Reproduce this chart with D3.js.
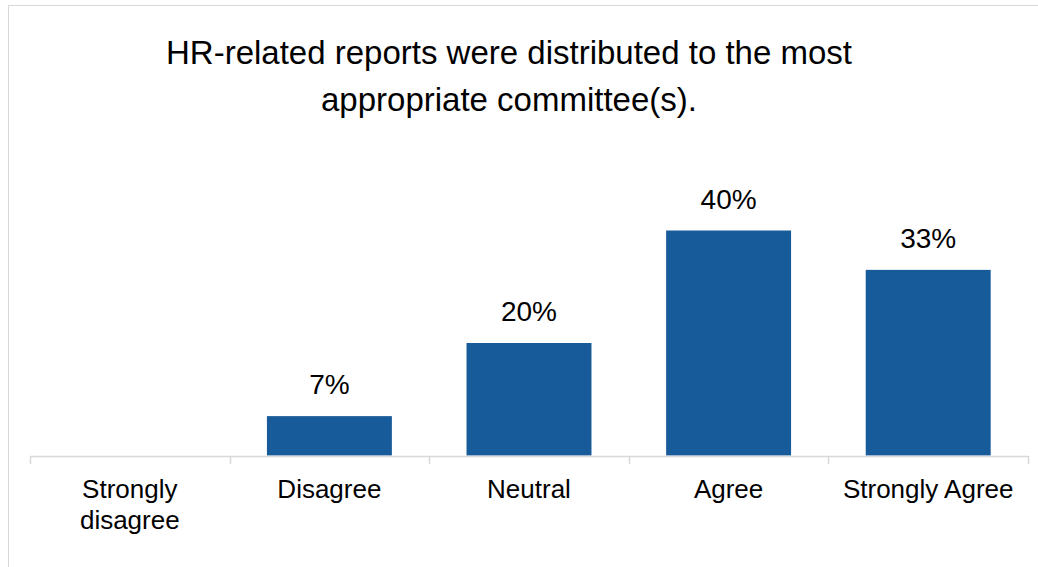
<!DOCTYPE html>
<html>
<head>
<meta charset="utf-8">
<script src="https://cdn.jsdelivr.net/npm/d3@7"></script>
<style>
  html, body { margin: 0; padding: 0; background: #fff; }
  svg { display: block; }
</style>
</head>
<body>
<svg id="chart" width="1038" height="567"></svg>
<script>
// Survey responses (percent of respondents)
const categories = ["Strongly disagree", "Disagree", "Neutral", "Agree", "Strongly Agree"];
const values = [0, 7, 20, 40, 33];
const valueLabels = ["", "7%", "20%", "40%", "33%"];
const categoryLines = [["Strongly", "disagree"], ["Disagree"], ["Neutral"], ["Agree"], ["Strongly Agree"]];
const titleLines = ["HR-related reports were distributed to the most", "appropriate committee(s)."];

const W = 1038, H = 567;
const svg = d3.select("#chart");

// chart frame
svg.append("rect")
  .attr("x", 8.5).attr("y", 5.5)
  .attr("width", W + 20).attr("height", H + 20)
  .attr("fill", "#fff").attr("stroke", "#d9d9d9").attr("stroke-width", 1);

const x = d3.scaleBand().domain(categories).range([30, 1028]).paddingInner(0.374).paddingOuter(0.187);
const y = d3.scaleLinear().domain([0, 45]).range([455.5, 455.5 - 45 * 5.625]);

// title
svg.append("g").selectAll("text").data(titleLines).join("text")
  .attr("x", 509).attr("y", (d, i) => 64 + i * 47)
  .attr("text-anchor", "middle")
  .attr("font-family", "'Liberation Sans', Arial, sans-serif")
  .attr("font-size", 33)
  .attr("fill", "#000")
  .text(d => d);

// bars
svg.append("g").selectAll("rect").data(values).join("rect")
  .attr("x", (d, i) => x(categories[i]))
  .attr("width", x.bandwidth())
  .attr("y", d => y(d))
  .attr("height", d => y(0) - y(d))
  .attr("fill", "#185b9a");

// value labels
svg.append("g").selectAll("text").data(values).join("text")
  .attr("x", (d, i) => x(categories[i]) + x.bandwidth() / 2)
  .attr("y", d => y(d) - 22)
  .attr("text-anchor", "middle")
  .attr("font-family", "'Liberation Sans', Arial, sans-serif")
  .attr("font-size", 28)
  .attr("fill", "#000")
  .text((d, i) => valueLabels[i]);

// category axis with tick marks on band boundaries
const axisY = 456;
const xOuter = d3.scaleBand().domain(categories).range([30, 1028]);
const axis = svg.append("g");
axis.append("line")
  .attr("x1", 30).attr("x2", 1028).attr("y1", axisY + 0.5).attr("y2", axisY + 0.5)
  .attr("stroke", "#d9d9d9").attr("stroke-width", 1.5);
const bounds = categories.map(c => xOuter(c)).concat([1028]);
axis.selectAll("line.tick").data(bounds).join("line")
  .attr("class", "tick")
  .attr("x1", d => Math.round(d) + 0.5).attr("x2", d => Math.round(d) + 0.5)
  .attr("y1", axisY).attr("y2", axisY + 8)
  .attr("stroke", "#d9d9d9").attr("stroke-width", 1.5);

const lab = axis.selectAll("text.cat").data(categories).join("text")
  .attr("class", "cat")
  .attr("text-anchor", "middle")
  .attr("font-family", "'Liberation Sans', Arial, sans-serif")
  .attr("font-size", 26)
  .attr("fill", "#000");
lab.each(function (d, i) {
  const t = d3.select(this);
  categoryLines[i].forEach((ln, j) => {
    t.append("tspan")
      .attr("x", xOuter(d) + xOuter.bandwidth() / 2)
      .attr("y", 498 + j * 31)
      .text(ln);
  });
});
</script>
</body>
</html>
